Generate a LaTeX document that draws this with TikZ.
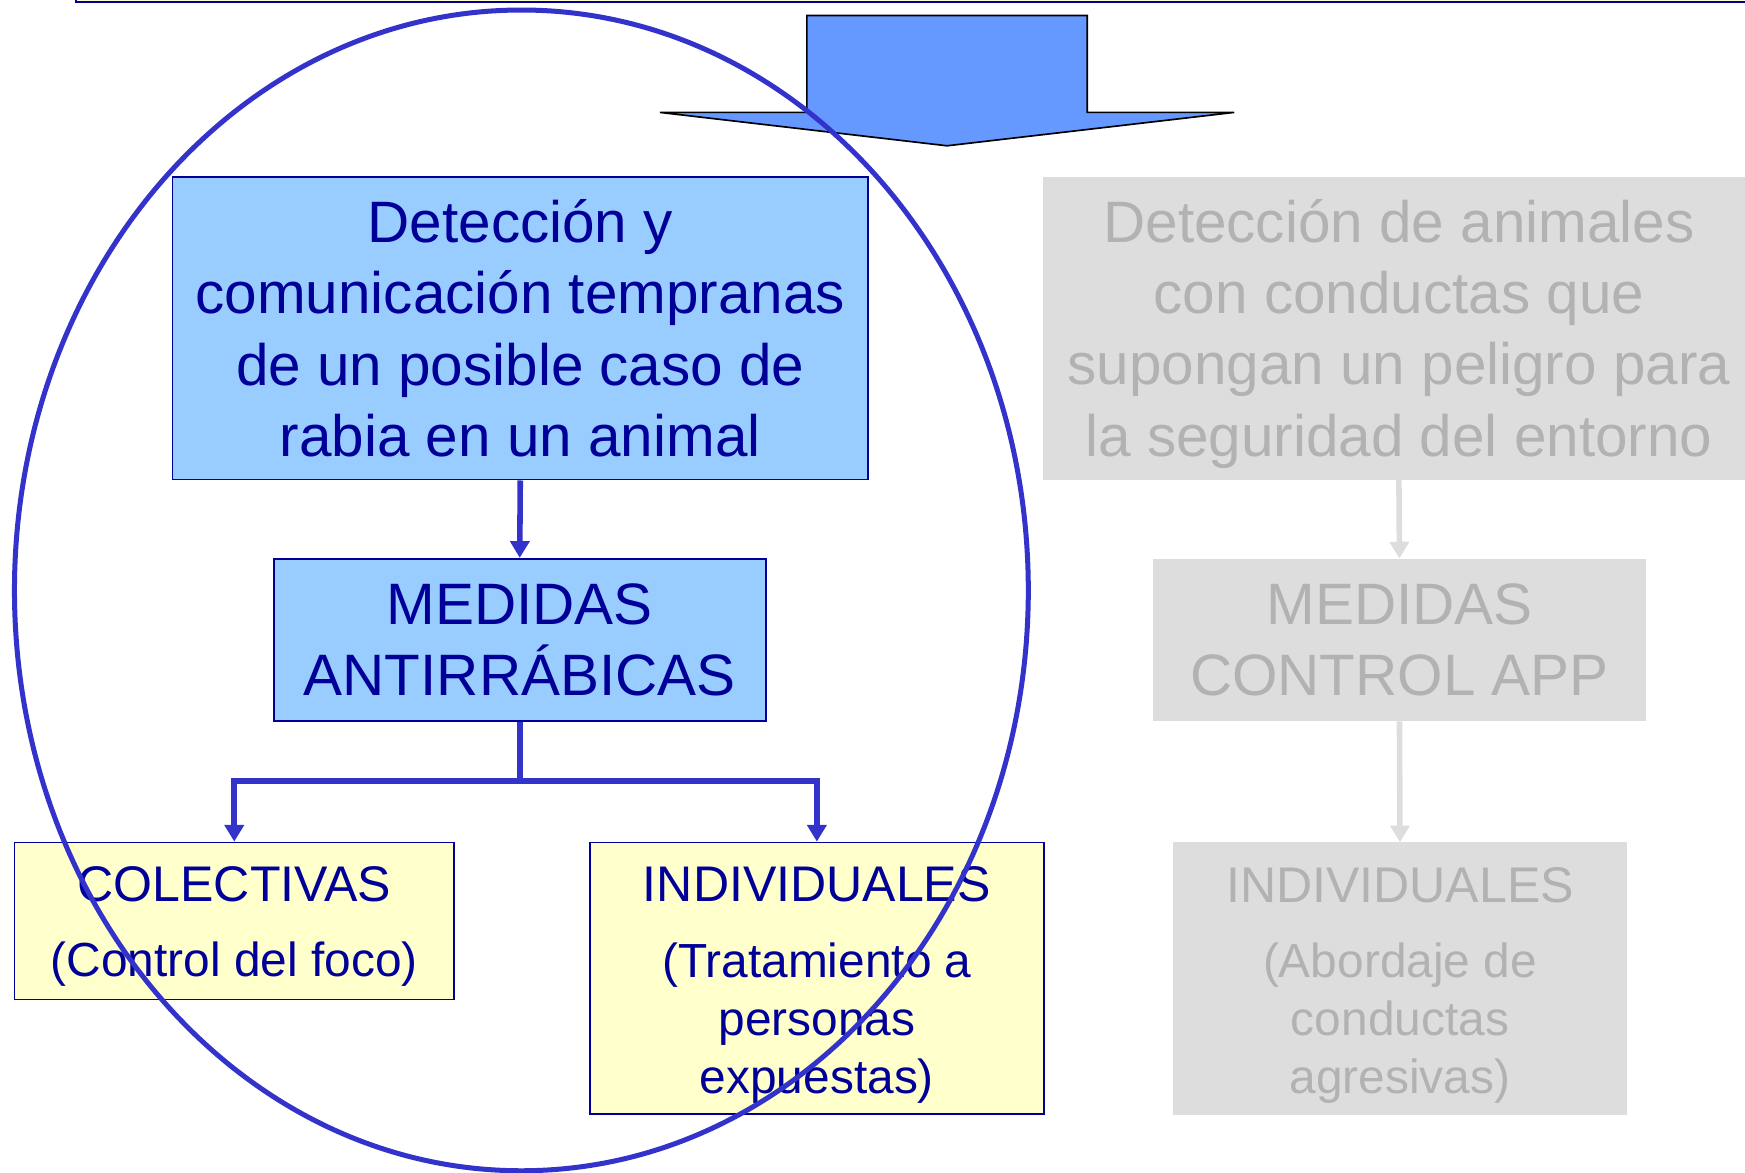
\documentclass[tikz,border=0pt]{standalone}
\usepackage{fontspec}
\setmainfont{Liberation Sans}
\usetikzlibrary{arrows.meta}
\definecolor{navy}{HTML}{000099}
\definecolor{boxblue}{HTML}{99CCFF}
\definecolor{boxyellow}{HTML}{FFFFCC}
\definecolor{linkblue}{HTML}{3333CC}
\definecolor{arrowblue}{HTML}{6699FF}
\definecolor{boxgray}{HTML}{DDDDDD}
\definecolor{textgray}{HTML}{B2B2B2}
\tikzset{
  bigtext/.style={font=\fontsize{52.5}{64}\selectfont, align=center, inner sep=0pt},
  smalltext/.style={font=\fontsize{43}{52}\selectfont, align=center, inner sep=0pt},
  bluebox/.style={draw=navy, line width=1.5pt, fill=boxblue, inner sep=0pt},
  yellowbox/.style={draw=navy, line width=1.5pt, fill=boxyellow, inner sep=0pt},
  graybox/.style={fill=boxgray, inner sep=0pt},
  conn/.style={draw=linkblue, line width=5pt, -{Triangle[width=17pt,length=15pt]}},
  gconn/.style={draw=boxgray, line width=5pt, -{Triangle[width=17pt,length=15pt]}},
}
\newcommand{\headline}[1]{{\fontsize{45}{52}\selectfont #1}}
\begin{document}
\begin{tikzpicture}[x=1pt,y=-1pt]
\useasboundingbox (0,0) rectangle (1568,1054);
\clip (0,0) rectangle (1568,1054);
% top frame edge
\draw[navy, line width=2pt, fill=boxyellow] (68,-40) rectangle (1640,2);
% big arrow
\draw[fill=arrowblue, draw=black, line width=1.5pt, line join=miter]
  (725,14) -- (977,14) -- (977,101) -- (1109,101) -- (851,131) -- (593,101) -- (725,101) -- cycle;
% left column boxes
\node[bluebox, minimum width=625pt, minimum height=272pt] (b1) at (467.5,295) {};
\node[bluebox, minimum width=442pt, minimum height=146pt] (b2) at (467,575) {};
\node[yellowbox, minimum width=395pt, minimum height=141pt] (col) at (210.5,827.5) {};
\node[yellowbox, minimum width=408pt, minimum height=244pt] (ind) at (734,879) {};
% right column boxes
\node[graybox, minimum width=640pt, minimum height=272pt] (g1) at (1257,295) {};
\node[graybox, minimum width=443pt, minimum height=146pt] (g2) at (1257.5,575) {};
\node[graybox, minimum width=408pt, minimum height=245pt] (g3) at (1258,879.5) {};
% texts
\node[bigtext, text=navy] (b1t) at (b1.center)
  {Detección y\\comunicación tempranas\\de un posible caso de\\rabia en un animal};
\node[bigtext, text=navy] (b2t) at (b2.center) {MEDIDAS\\ANTIRRÁBICAS};
\node[smalltext, text=navy] (colt) at ([yshift=-5pt]col.center)
  {\headline{COLECTIVAS}\\[16pt](Control del foco)};
\node[smalltext, text=navy] (indt) at ([yshift=-6pt]ind.center)
  {\headline{INDIVIDUALES}\\[16pt](Tratamiento a\\personas\\expuestas)};
\node[bigtext, text=textgray] (g1t) at ([yshift=-5pt]g1.center)
  {Detección de animales\\con conductas que\\supongan un peligro para\\la seguridad del entorno};
\node[bigtext, text=textgray] (g2t) at (g2.center) {MEDIDAS\\CONTROL APP};
\node[smalltext, text=textgray] (g3t) at ([yshift=-6pt]g3.center)
  {\headline{INDIVIDUALES}\\[16pt](Abordaje de\\conductas\\agresivas)};
% connectors
\coordinate (split) at (467,702);
\draw[conn] (b1.south) -- (b2.north);
\draw[draw=linkblue, line width=5pt] (b2.south) -- (split);
\draw[conn] (split) -| (col.north);
\draw[conn] (split) -| (ind.north);
\draw[gconn] (g1.south) -- (g2.north);
\draw[gconn] (g2.south) -- (g3.north);
% ellipse
\draw[linkblue, line width=4.5pt] (468.5,530.5) ellipse [x radius=455.5, y radius=521.5];
\end{tikzpicture}
\end{document}
